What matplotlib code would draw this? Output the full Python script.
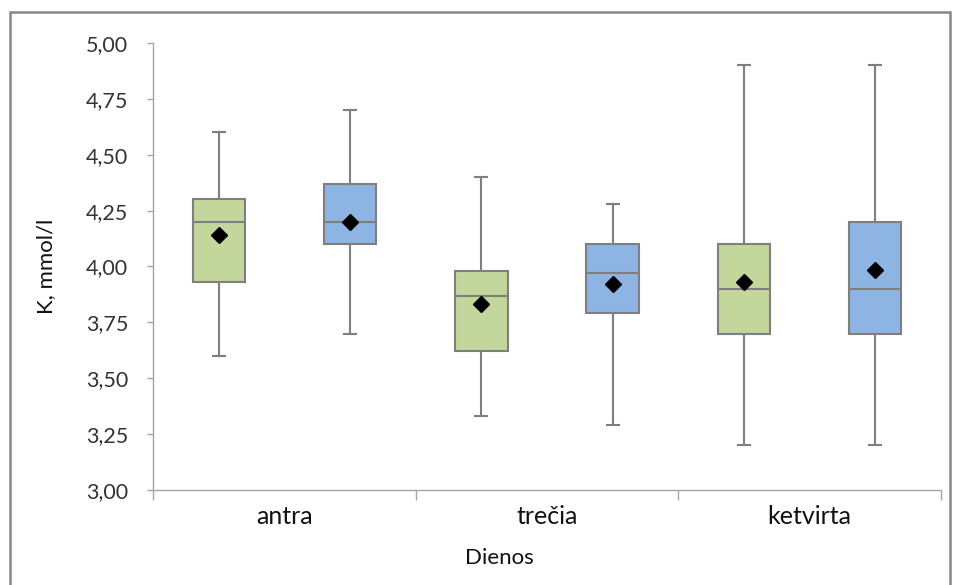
import matplotlib.pyplot as plt
from matplotlib.patches import Rectangle
from matplotlib.ticker import FuncFormatter, FixedLocator

plt.rcParams['font.family'] = ['Lato', 'DejaVu Sans']

# data (K, mmol/l)
categories = ["antra", "trečia", "ketvirta"]

green_low = [3.60, 3.33, 3.20]
green_q1 = [3.93, 3.62, 3.70]
green_med = [4.20, 3.87, 3.90]
green_q3 = [4.30, 3.98, 4.10]
green_high = [4.60, 4.40, 4.90]
green_mean = [4.14, 3.83, 3.93]

blue_low = [3.70, 3.29, 3.20]
blue_q1 = [4.10, 3.79, 3.70]
blue_med = [4.20, 3.97, 3.90]
blue_q3 = [4.37, 4.10, 4.20]
blue_high = [4.70, 4.28, 4.90]
blue_mean = [4.20, 3.92, 3.985]

green_color = "#C3D69B"
blue_color = "#8DB4E2"
edge = "#7F7F7F"


def make_stats(low, q1, med, q3, high, mean):
    return [dict(whislo=a, q1=b, med=c, q3=d, whishi=e, mean=f)
            for a, b, c, d, e, f in zip(low, q1, med, q3, high, mean)]


fig = plt.figure(figsize=(9.57, 5.85), dpi=100)
ax = fig.add_axes([0.160, 0.1624, 0.823, 0.7641])

groups = [
    (make_stats(green_low, green_q1, green_med, green_q3, green_high, green_mean), -0.25, green_color),
    (make_stats(blue_low, blue_q1, blue_med, blue_q3, blue_high, blue_mean), 0.25, blue_color),
]
for stats, offset, color in groups:
    pos = [i + offset for i in range(len(categories))]
    ax.bxp(stats, positions=pos, widths=0.2, capwidths=0.046,
           showmeans=True, showfliers=False, patch_artist=True,
           boxprops=dict(facecolor=color, edgecolor=edge, linewidth=1.5),
           medianprops=dict(color=edge, linewidth=1.5),
           whiskerprops=dict(color=edge, linewidth=1.5),
           capprops=dict(color=edge, linewidth=1.5),
           meanprops=dict(marker="D", markerfacecolor="black",
                          markeredgecolor="black", markersize=8))

ax.set_xlim(-0.5, len(categories) - 0.5)
ax.set_ylim(3.0, 5.0)
ax.set_yticks([3.0 + 0.25 * i for i in range(9)])
ax.yaxis.set_major_formatter(FuncFormatter(lambda v, p: f"{v:.2f}".replace(".", ",")))

ax.set_xticks(range(len(categories)))
ax.set_xticklabels(categories, fontsize=18, color="#111111")
ax.xaxis.set_minor_locator(FixedLocator([i - 0.5 for i in range(len(categories) + 1)]))
ax.tick_params(axis="x", which="major", length=0, pad=11)
ax.tick_params(axis="x", which="minor", length=7, color="#A6A6A6", width=1)
ax.tick_params(axis="y", length=4.5, color="#A6A6A6", width=1, labelsize=15.5, pad=13.5,
               labelcolor="#333333")

for s in ["top", "right"]:
    ax.spines[s].set_visible(False)
for s in ["left", "bottom"]:
    ax.spines[s].set_color("#A6A6A6")
    ax.spines[s].set_linewidth(1)

ax.set_ylabel("K, mmol/l", fontsize=16, color="#111111")
ax.yaxis.label.set_va("center")
ax.yaxis.set_label_coords(-0.136, 0.5)
ax.set_xlabel("Dienos", fontsize=16, color="#111111")
ax.xaxis.label.set_va("center")
ax.xaxis.set_label_coords(0.439, -0.152)

fig.patches.append(Rectangle((0.0105, -0.05), 0.982, 1.03, transform=fig.transFigure,
                             fill=False, edgecolor="#888888", linewidth=1.8))

fig.savefig("out.png", dpi=100)
